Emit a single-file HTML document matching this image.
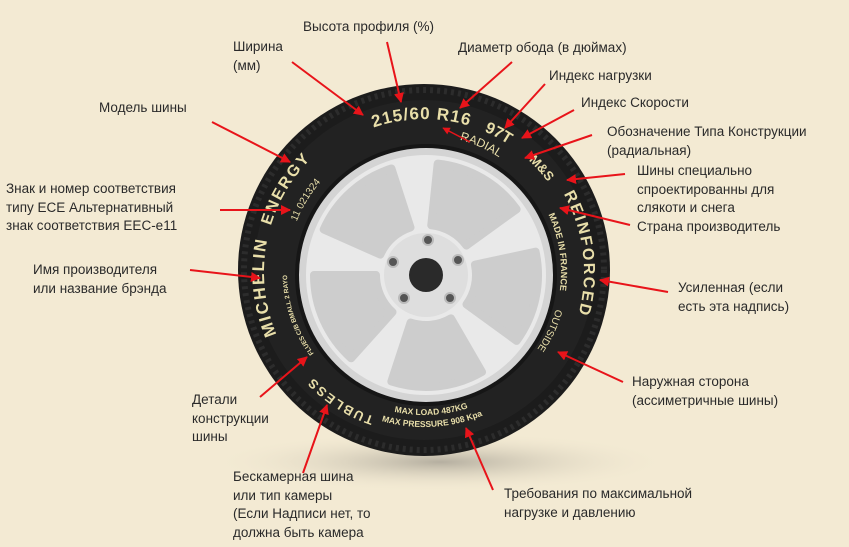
<!DOCTYPE html>
<html><head><meta charset="utf-8"><style>
html,body{margin:0;padding:0;background:#f3ead3;}
body{width:849px;height:547px;position:relative;overflow:hidden;font-family:"Liberation Sans",Arial,sans-serif;}
.l{position:absolute;font-size:13.5px;line-height:18.5px;color:#2a2a2a;white-space:nowrap;}
svg{position:absolute;left:0;top:0;}
</style></head><body>
<svg width="849" height="547" viewBox="0 0 849 547">
<defs>
<radialGradient id="sh" cx="50%" cy="50%" r="50%"><stop offset="0" stop-color="#9a958a" stop-opacity="0.7"/><stop offset="1" stop-color="#f3ead3" stop-opacity="0"/></radialGradient>
<marker id="ah" viewBox="0 0 10 10" refX="9" refY="5" markerWidth="5" markerHeight="5" orient="auto"><path d="M0,0 L10,5 L0,10 Z" fill="#e8141a"/></marker>
<path id="o1" d="M424,432 A160,160 0 1 1 424,112 A160,160 0 1 1 424,432"/>
<path id="o2" d="M424,425 A153,153 0 1 1 424,119 A153,153 0 1 1 424,425"/>
<path id="i1" d="M424,409 A137,137 0 1 1 424,135 A137,137 0 1 1 424,409"/>
<path id="b1" d="M281,272 A143,143 0 0 0 567,272"/>
<path id="b2" d="M269,272 A155,155 0 0 0 579,272"/>
<path id="win" d="M45.7,-20.3 L102.3,-45.6 A112,112 0 0 1 102.3,45.6 L45.7,20.3 A50,50 0 0 0 45.7,-20.3 Z"/>
</defs>
<ellipse cx="440" cy="462" rx="230" ry="30" fill="url(#sh)"/>
<circle cx="424" cy="270" r="186" fill="#1c1c1c"/>
<circle cx="424" cy="270" r="180" fill="none" stroke="#2c2c2c" stroke-width="6" stroke-dasharray="3 4"/>
<circle cx="424" cy="270" r="170" fill="#222"/>
<circle cx="426" cy="275" r="131" fill="#161616"/>
<circle cx="426" cy="275" r="127" fill="#d4d4d4"/>
<circle cx="426" cy="275" r="120" fill="#e9e9e9"/>
<g transform="translate(426,275)" fill="#cdcdcd" stroke="#cdcdcd" stroke-width="8" stroke-linejoin="round">
<use href="#win" transform="rotate(-60)"/><use href="#win" transform="rotate(12)"/><use href="#win" transform="rotate(84)"/><use href="#win" transform="rotate(156)"/><use href="#win" transform="rotate(228)"/>
</g>
<circle cx="426" cy="275" r="42" fill="#dedede"/>
<circle cx="426" cy="275" r="17" fill="#2a2a2a"/>
<g fill="#555" stroke="#bbb" stroke-width="2">
<circle cx="428" cy="240" r="5"/><circle cx="458" cy="260" r="5"/><circle cx="450" cy="298" r="5"/><circle cx="404" cy="298" r="5"/><circle cx="393" cy="262" r="5"/>
</g>
<g fill="#e9dfaa" font-family="Liberation Sans,Arial,sans-serif" font-weight="bold" text-anchor="middle">
<text font-size="17" letter-spacing="2"><textPath href="#o1" startOffset="236">MICHELIN</textPath></text>
<text font-size="16" letter-spacing="2"><textPath href="#o1" startOffset="338">ENERGY</textPath></text>
<text font-size="17" letter-spacing="1"><textPath href="#o2" startOffset="478">215/60 R16</textPath></text>
<text font-size="16"><textPath href="#o2" startOffset="556">97T</textPath></text>
<text font-size="13"><textPath href="#o2" startOffset="610">M&amp;S</textPath></text>
<text font-size="16" letter-spacing="2"><textPath href="#o1" startOffset="735">REINFORCED</textPath></text>
<text font-size="13" letter-spacing="2"><textPath href="#o2" startOffset="88">TUBLESS</textPath></text>
<text font-size="10" font-weight="normal"><textPath href="#i1" startOffset="290">11 021324</textPath></text>
<text font-size="12" font-weight="normal"><textPath href="#i1" startOffset="488">RADIAL</textPath></text>
<text font-size="9"><textPath href="#i1" startOffset="625">MADE IN FRANCE</textPath></text>
<text font-size="10" font-weight="normal"><textPath href="#i1" startOffset="705">OUTSIDE</textPath></text>
<text font-size="6.5"><textPath href="#i1" startOffset="170">FLUES C/B BMALL 2 RAYO</textPath></text>
<text font-size="8.5"><textPath href="#b1" startOffset="232">MAX LOAD 487KG</textPath></text>
<text font-size="8.5"><textPath href="#b2" startOffset="252">MAX PRESSURE 908 Kpa</textPath></text>
</g>
<g stroke="#e8141a" stroke-width="2" marker-end="url(#ah)">
<line x1="387" y1="42" x2="401" y2="102"/>
<line x1="292" y1="62" x2="363" y2="115"/>
<line x1="512" y1="62" x2="460" y2="108"/>
<line x1="545" y1="84" x2="505" y2="128"/>
<line x1="574" y1="110" x2="522" y2="138"/>
<line x1="592" y1="135" x2="525" y2="158"/>
<line x1="470" y1="142" x2="443" y2="128" stroke-width="1.5"/>
<line x1="625" y1="174" x2="567" y2="180"/>
<line x1="630" y1="225" x2="560" y2="208"/>
<line x1="668" y1="292" x2="600" y2="280"/>
<line x1="623" y1="382" x2="558" y2="352"/>
<line x1="493" y1="490" x2="466" y2="428"/>
<line x1="303" y1="473" x2="327" y2="405"/>
<line x1="260" y1="397" x2="307" y2="357"/>
<line x1="190" y1="270" x2="260" y2="278"/>
<line x1="220" y1="210" x2="290" y2="210"/>
<line x1="212" y1="122" x2="290" y2="162"/>
</g>
</svg>
<div class="l" style="left:303px;top:18px">Высота профиля (%)</div>
<div class="l" style="left:233px;top:38px">Ширина<br>(мм)</div>
<div class="l" style="left:458px;top:39px">Диаметр обода (в дюймах)</div>
<div class="l" style="left:549px;top:67px">Индекс нагрузки</div>
<div class="l" style="left:581px;top:94px">Индекс Скорости</div>
<div class="l" style="left:607px;top:123px">Обозначение Типа Конструкции<br>(радиальная)</div>
<div class="l" style="left:637px;top:162px">Шины специально<br>спроектированны для<br>слякоти и снега</div>
<div class="l" style="left:637px;top:218px">Страна производитель</div>
<div class="l" style="left:678px;top:279px">Усиленная (если<br>есть эта надпись)</div>
<div class="l" style="left:632px;top:373px">Наружная сторона<br>(ассиметричные шины)</div>
<div class="l" style="left:504px;top:485px">Требования по максимальной<br>нагрузке и давлению</div>
<div class="l" style="left:233px;top:468px">Бескамерная шина<br>или тип камеры<br>(Если Надписи нет, то<br>должна быть камера</div>
<div class="l" style="left:192px;top:391px">Детали<br>конструкции<br>шины</div>
<div class="l" style="left:33px;top:261px">Имя производителя<br>или название брэнда</div>
<div class="l" style="left:6px;top:180px">Знак и номер соответствия<br>типу ECE Альтернативный<br>знак соответствия EEC-e11</div>
<div class="l" style="left:99px;top:99px">Модель шины</div>
</body></html>
